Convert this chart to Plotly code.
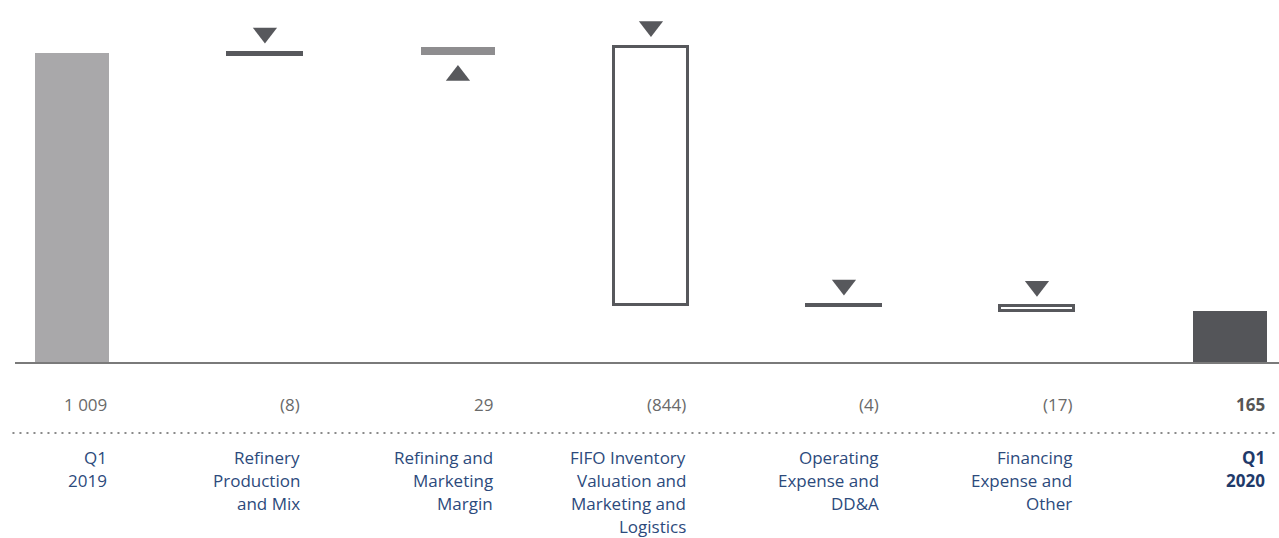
import plotly.graph_objects as go

# ---- data ----
categories = ["Q1 2019", "Refinery Production and Mix", "Refining and Marketing Margin",
              "FIFO Inventory Valuation and Marketing and Logistics",
              "Operating Expense and DD&A", "Financing Expense and Other", "Q1 2020"]
label_lines = [["Q1", "2019"], ["Refinery", "Production", "and Mix"],
               ["Refining and", "Marketing", "Margin"],
               ["FIFO Inventory", "Valuation and", "Marketing and", "Logistics"],
               ["Operating", "Expense and", "DD&A"], ["Financing", "Expense and", "Other"],
               ["Q1", "2020"]]
measures = ["absolute", "relative", "relative", "relative", "relative", "relative", "total"]
values = [1009, -8, 29, -844, -4, -17, 165]
value_labels = ["1 009", "(8)", "29", "(844)", "(4)", "(17)", "165"]

# ---- style ----
W, H = 1279, 538
M_L, M_R, M_T, M_B = 15, 0, 0, 176
Y_MAX = 1182
PLOT_H = H - M_T - M_B
PX_PER_UNIT = PLOT_H / Y_MAX
BAR_W = 0.383
BAR_HALF_PX = 37
TRI_OFFSET = 20 / PX_PER_UNIT

C_START = "#a9a8aa"
C_UP = "#8e8d8f"
C_END = "#545559"
C_OUT = "#57585c"
C_VAL = "#6a6a6a"
C_CAT = "#2c4a7c"
C_CAT_B = "#1f3a6a"
FONT = "Open Sans, Noto Sans, sans-serif"

# ---- compute bases from data ----
bases, heights, colors, lcolors, lwidths = [], [], [], [], []
running = 0
for m, v in zip(measures, values):
    if m == "absolute":
        bases.append(0); heights.append(v); running = v
        colors.append(C_START); lcolors.append(C_START); lwidths.append(0)
    elif m == "total":
        bases.append(0); heights.append(running)
        colors.append(C_END); lcolors.append(C_END); lwidths.append(0)
    else:
        if v >= 0:
            bases.append(running); heights.append(v)
            colors.append(C_UP); lcolors.append(C_UP); lwidths.append(0)
        else:
            bases.append(running + v); heights.append(-v)
            colors.append("white"); lcolors.append(C_OUT); lwidths.append(3)
        running += v

fig = go.Figure()
fig.add_trace(go.Bar(
    x=categories, y=heights, base=bases, width=BAR_W,
    marker=dict(color=colors, line=dict(color=lcolors, width=lwidths)),
    hoverinfo="skip", showlegend=False,
))

# triangles
tx, ty, ts = [], [], []
for c, m, v, b, h in zip(categories, measures, values, bases, heights):
    if m != "relative":
        continue
    tx.append(c)
    if v < 0:
        ty.append(b + h + TRI_OFFSET); ts.append("triangle-down")
    else:
        ty.append(b - TRI_OFFSET); ts.append("triangle-up")
fig.add_trace(go.Scatter(
    x=tx, y=ty, mode="markers",
    marker=dict(symbol=ts, size=21, color=C_OUT, line=dict(width=0)),
    hoverinfo="skip", showlegend=False, cliponaxis=False,
))

annotations = []
n = len(categories)
for i, (c, vl, lines) in enumerate(zip(categories, value_labels, label_lines)):
    last = i == n - 1
    annotations.append(dict(
        x=c, xref="x", y=0, yref="paper", xanchor="right", yanchor="top",
        xshift=BAR_HALF_PX, yshift=-29, showarrow=False,
        text=f"<b>{vl}</b>" if last else vl,
        font=dict(family=FONT, size=17, color="#555555" if last else C_VAL),
    ))
    for j, ln in enumerate(lines):
        annotations.append(dict(
            x=c, xref="x", y=0, yref="paper", xanchor="right", yanchor="top",
            xshift=BAR_HALF_PX, yshift=-82 - 23 * j, showarrow=False,
            text=f"<b>{ln}</b>" if last else ln,
            font=dict(family=FONT, size=17, color=C_CAT_B if last else C_CAT),
        ))

fig.update_layout(
    width=W, height=H,
    margin=dict(l=M_L, r=M_R, t=M_T, b=M_B),
    paper_bgcolor="white", plot_bgcolor="white",
    bargap=0,
    xaxis=dict(type="category", range=[-0.295, 6.254], showticklabels=False,
               showgrid=False, zeroline=False, showline=True,
               linecolor="#7a7a7a", linewidth=2, ticks=""),
    yaxis=dict(range=[0, Y_MAX], visible=False, showgrid=False, zeroline=False),
    annotations=annotations,
    shapes=[dict(type="line", xref="paper", yref="paper", x0=-0.002, x1=1,
                 y0=-71 / PLOT_H, y1=-71 / PLOT_H,
                 line=dict(color="#8a8a8a", width=2, dash="2px,5px"))],
    font=dict(family=FONT),
)

fig.write_html("out.html")
